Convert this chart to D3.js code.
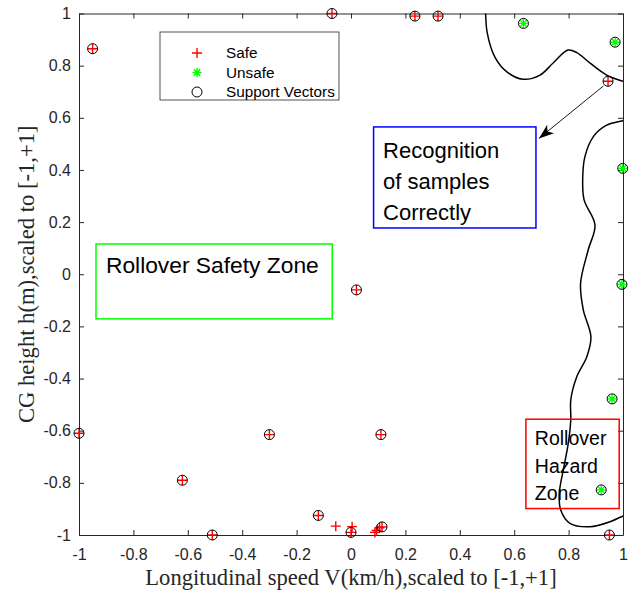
<!DOCTYPE html>
<html>
<head>
<meta charset="utf-8">
<script src="https://cdn.jsdelivr.net/npm/d3@7/dist/d3.min.js"></script>
<style>
  html, body { margin: 0; padding: 0; background: #fff; }
  svg { display: block; font-family: Arial, "Liberation Sans", sans-serif; }
</style>
</head>
<body>
<div id="chart"></div>
<script>
// support vectors of class "safe" (red + inside black circle)
const safeSV = [
  [-0.95, 0.865], [-0.07, 1.0], [0.235, 0.99], [0.32, 0.99], [0.945, 0.74],
  [0.02, -0.06], [-1.0, -0.61], [-0.30, -0.615], [0.11, -0.615],
  [-0.62, -0.79], [-0.51, -1.0], [-0.12, -0.925], [0.0, -0.99],
  [0.114, -0.969], [0.95, -1.0]
]
// safe samples that are not support vectors
const safeOnly = [
  [-0.056, -0.966], [0.004, -0.968], [0.088, -0.99], [0.094, -0.983], [0.105, -0.972]
]
// support vectors of class "unsafe" (green *)
const unsafeSV = [
  [0.634, 0.962], [0.971, 0.89], [0.999, 0.406], [0.996, -0.039],
  [0.96, -0.478], [0.92, -0.827]
]
// decision boundary pieces
const boundaryTop = [
  [0.495, 1.01], [0.495, 1.0], [0.501, 0.925], [0.529, 0.833], [0.572, 0.777], [0.632, 0.748],
  [0.695, 0.764], [0.743, 0.81], [0.798, 0.86], [0.83, 0.85], [0.879, 0.81],
  [0.94, 0.764], [1.0, 0.74], [1.01, 0.737]
]
const boundaryRight = [
  [1.01, 0.592], [1.0, 0.589], [0.94, 0.572], [0.891, 0.528], [0.86, 0.451], [0.852, 0.374],
  [0.857, 0.285], [0.897, 0.189], [0.872, 0.093], [0.844, -0.035], [0.854, -0.137],
  [0.882, -0.24], [0.867, -0.316], [0.83, -0.393], [0.808, -0.482], [0.808, -0.559],
  [0.799, -0.647], [0.783, -0.738], [0.766, -0.839], [0.771, -0.904], [0.805, -0.955],
  [0.879, -0.968], [0.952, -0.949], [1.0, -0.927], [1.01, -0.922]
]
const xTicks = [-1, -0.8, -0.6, -0.4, -0.2, 0, 0.2, 0.4, 0.6, 0.8, 1]
const yTicks = [-1, -0.8, -0.6, -0.4, -0.2, 0, 0.2, 0.4, 0.6, 0.8, 1]
const legendItems = ['Safe', 'Unsafe', 'Support Vectors']

const W = 633, H = 593
const axisColor = '#262626'

const svg = d3.select('#chart').append('svg').attr('width', W).attr('height', H)

const x = d3.scaleLinear().domain([-1, 1]).range([79, 623])
const y = d3.scaleLinear().domain([-1, 1]).range([535, 13.5])

svg.append('defs').append('clipPath').attr('id', 'plotclip')
  .append('rect')
  .attr('x', x(-1)).attr('y', y(1))
  .attr('width', x(1) - x(-1)).attr('height', y(-1) - y(1))

// axes: ticks pointing inward on all four sides
const fmt = d => String(d)
const styleAxis = g => {
  g.selectAll('path.domain').attr('stroke', axisColor).attr('stroke-width', 1)
  g.selectAll('line').attr('stroke', axisColor)
  g.selectAll('text').attr('fill', axisColor).attr('font-size', 16)
    .attr('font-family', 'Arial, "Liberation Sans", sans-serif')
}
svg.append('g').attr('transform', `translate(0,${y(-1)})`)
  .call(d3.axisBottom(x).tickValues(xTicks).tickFormat(fmt).tickSize(-5).tickSizeOuter(0).tickPadding(14))
  .call(styleAxis)
svg.append('g').attr('transform', `translate(0,${y(1)})`)
  .call(d3.axisTop(x).tickValues(xTicks).tickFormat('').tickSize(-5).tickSizeOuter(0))
  .call(styleAxis)
svg.append('g').attr('transform', `translate(${x(-1)},0)`)
  .call(d3.axisLeft(y).tickValues(yTicks).tickFormat(fmt).tickSize(-5).tickSizeOuter(0).tickPadding(8))
  .call(styleAxis)
svg.append('g').attr('transform', `translate(${x(1)},0)`)
  .call(d3.axisRight(y).tickValues(yTicks).tickFormat('').tickSize(-5).tickSizeOuter(0))
  .call(styleAxis)

// axis titles
svg.append('text')
  .attr('x', (x(-1) + x(1)) / 2).attr('y', 585)
  .attr('text-anchor', 'middle')
  .attr('font-family', '"Liberation Serif", "Times New Roman", serif')
  .attr('font-size', 22.6).attr('fill', axisColor)
  .text('Longitudinal speed V(km/h),scaled to [-1,+1]')
svg.append('text')
  .attr('transform', `translate(34,${(y(-1) + y(1)) / 2}) rotate(-90)`)
  .attr('text-anchor', 'middle')
  .attr('font-family', '"Liberation Serif", "Times New Roman", serif')
  .attr('font-size', 22.6).attr('fill', axisColor)
  .text('CG height h(m),scaled to [-1,+1]')

// decision boundary
const line = d3.line().x(d => x(d[0])).y(d => y(d[1])).curve(d3.curveCatmullRom)
const bg = svg.append('g').attr('clip-path', 'url(#plotclip)')
for (const b of [boundaryTop, boundaryRight]) {
  bg.append('path').datum(b).attr('d', line)
    .attr('fill', 'none').attr('stroke', '#000').attr('stroke-width', 1.5)
}

// marker helpers
function plus(g, r) {
  g.append('path').attr('d', `M${-r},0H${r}M0,${-r}V${r}`)
    .attr('stroke', '#ff0000').attr('stroke-width', 1.4).attr('fill', 'none')
}
function star(g, r) {
  const k = r * Math.SQRT1_2
  g.append('path').attr('d', `M${-r},0H${r}M0,${-r}V${r}M${-k},${-k}L${k},${k}M${-k},${k}L${k},${-k}`)
    .attr('stroke', '#00ff00').attr('stroke-width', 1.4).attr('fill', 'none')
}
function ring(g, r) {
  g.append('circle').attr('r', r).attr('fill', 'none').attr('stroke', '#000').attr('stroke-width', 1)
}

const pts = svg.append('g')
for (const d of safeOnly.concat(safeSV)) {
  plus(pts.append('g').attr('transform', `translate(${x(d[0])},${y(d[1])})`), 5)
}
for (const d of unsafeSV) {
  star(pts.append('g').attr('transform', `translate(${x(d[0])},${y(d[1])})`), 4.5)
}
for (const d of safeSV.concat(unsafeSV)) {
  ring(pts.append('g').attr('transform', `translate(${x(d[0])},${y(d[1])})`), 5)
}

// annotation boxes (positions in data units)
function noteBox(x0, y0, x1, y1, color, lines, size, lead, tx, ty) {
  const g = svg.append('g')
  g.append('rect')
    .attr('x', x(x0)).attr('y', y(y0))
    .attr('width', x(x1) - x(x0)).attr('height', y(y1) - y(y0))
    .attr('fill', 'none').attr('stroke', color).attr('stroke-width', 1.5)
  lines.forEach((t, i) => {
    g.append('text')
      .attr('x', x(tx)).attr('y', y(ty) + i * lead)
      .attr('font-size', size).attr('fill', '#000')
      .text(t)
  })
}
noteBox(0.083, 0.565, 0.68, 0.1775, '#0000ff', ['Recognition', 'of samples', 'Correctly'], 22, 31, 0.118, 0.445)
noteBox(-0.9375, 0.116, -0.069, -0.171, '#00ff00', ['Rollover Safety Zone'], 22.8, 0, -0.901, 0.0045)
noteBox(0.643, -0.556, 0.986, -0.8985, '#ff0000', ['Rollover', 'Hazard', 'Zone'], 19.5, 27.5, 0.676, -0.655)

// arrow from the sample to the note
const arrowFrom = [0.928, 0.722], arrowTo = [0.691, 0.521]
svg.append('defs').append('marker')
  .attr('id', 'ahead').attr('viewBox', '-16 -6 17 12')
  .attr('refX', 0).attr('refY', 0)
  .attr('markerWidth', 17).attr('markerHeight', 12)
  .attr('markerUnits', 'userSpaceOnUse')
  .attr('orient', 'auto')
  .append('path').attr('d', 'M0,0L-15,-5.5L-11,0L-15,5.5Z').attr('fill', '#000')
svg.append('line')
  .attr('x1', x(arrowFrom[0])).attr('y1', y(arrowFrom[1]))
  .attr('x2', x(arrowTo[0])).attr('y2', y(arrowTo[1]))
  .attr('stroke', '#000').attr('stroke-width', 0.9)
  .attr('marker-end', 'url(#ahead)')

// legend
const lg = svg.append('g').attr('transform', 'translate(160,32)')
lg.append('rect').attr('width', 179).attr('height', 68)
  .attr('fill', '#fff').attr('stroke', axisColor).attr('stroke-width', 0.8)
legendItems.forEach((name, i) => {
  const row = lg.append('g').attr('transform', `translate(37,${21 + i * 19.5})`)
  if (i === 0) plus(row, 5)
  else if (i === 1) star(row, 4.5)
  else ring(row, 5)
  row.append('text').attr('x', 29).attr('dy', '0.35em')
    .attr('font-size', 15.3).attr('fill', '#000').text(name)
})
</script>
</body>
</html>
